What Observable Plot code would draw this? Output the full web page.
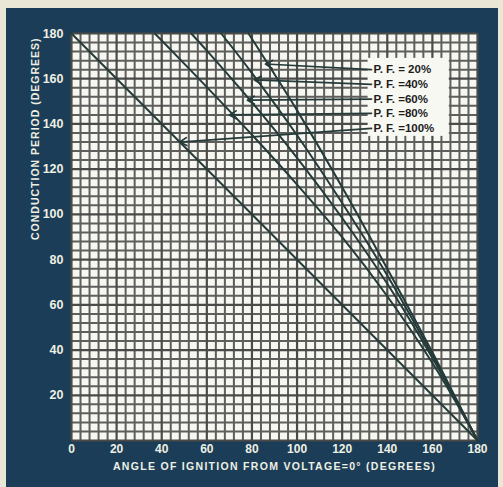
<!DOCTYPE html>
<html><head><meta charset="utf-8">
<script src="https://cdn.jsdelivr.net/npm/d3@7"></script>
<script src="https://cdn.jsdelivr.net/npm/@observablehq/plot@0.6"></script>
<style>
html,body{margin:0;padding:0;background:#ebe7d6;width:503px;height:487px;overflow:hidden}
#chart{position:absolute;left:6px;top:8px}
</style></head><body><div id="chart"></div>
<script>
// Tick labels
const xTicks = [0, 20, 40, 60, 80, 100, 120, 140, 160, 180];
const yTicks = [20, 40, 60, 80, 100, 120, 140, 160, 180];
const gridStep = 4;
const xTitle = "ANGLE OF IGNITION FROM VOLTAGE=0° (DEGREES)";
const yTitle = "CONDUCTION PERIOD (DEGREES)";

// Curves: angle of ignition (alpha) vs conduction period (beta)
const alpha20 = [78.5, 90, 100, 120, 140, 160, 170, 180];
const beta20  = [180, 162, 146, 112, 76, 39, 19.5, 0];
const alpha40 = [66.4, 80, 100, 120, 140, 160, 170, 180];
const beta40  = [180, 162.5, 135, 105, 73, 37.7, 19, 0];
const alpha60 = [53.1, 60, 80, 100, 120, 140, 160, 170, 180];
const beta60  = [180, 172.4, 149.5, 125, 98.4, 69.3, 36.5, 18.6, 0];
const alpha80 = [36.9, 40, 60, 80, 100, 120, 140, 160, 170, 180];
const beta80  = [180, 176.9, 156.3, 135.2, 113.2, 89.9, 63.8, 34.3, 17.7, 0];
const alpha100 = [0, 180];
const beta100  = [180, 0];

// Labels and leader lines
const labels = ["P. F. = 20%", "P. F. =40%", "P. F. =60%", "P. F. =80%", "P. F. =100%"];
const labelAlpha = [133, 133, 133, 133, 133];
const labelBeta = [164, 157.5, 151, 144.7, 138];
const targetAlpha = [86, 81, 78, 70, 48];
const targetBeta = [166.5, 159.5, 150.5, 144, 132];

const seriesList = [
  ["20", alpha20, beta20], ["40", alpha40, beta40], ["60", alpha60, beta60],
  ["80", alpha80, beta80], ["100", alpha100, beta100]
];
const curves = seriesList.flatMap(([pf, a, b]) => a.map((x, i) => ({pf, x, y: b[i]})));
const leaders = labels.map((t, i) => ({t, x1: labelAlpha[i], y1: labelBeta[i], x2: targetAlpha[i], y2: targetBeta[i]}));
const grid = d3.range(0, 181, gridStep);
const gridMinor = grid.filter(v => v % 20 !== 0);
const gridMajor = grid.filter(v => v % 20 === 0);

const boxX1 = d3.min(labelAlpha) - 1.5, boxX2 = d3.max(labelAlpha) + 34.5;
const boxY1 = d3.min(labelBeta) - 3.5, boxY2 = d3.max(labelBeta) + 5;

const plot = Plot.plot({
  width: 492, height: 479,
  marginLeft: 65, marginRight: 21, marginTop: 25, marginBottom: 47,
  x: {domain: [0, 180]},
  y: {domain: [0, 180]},
  style: {background: "#1b3d57", color: "#eef0e3", fontFamily: "Liberation Sans, Arial, sans-serif"},
  marks: [
    Plot.frame({fill: "#f6f7f1", stroke: null}),
    Plot.ruleX(gridMinor, {stroke: "#5e5e5c", strokeWidth: 2}),
    Plot.ruleY(gridMinor, {stroke: "#5e5e5c", strokeWidth: 2}),
    Plot.ruleX(gridMajor, {stroke: "#4a4a48", strokeWidth: 2.2}),
    Plot.ruleY(gridMajor, {stroke: "#4a4a48", strokeWidth: 2.2}),
    Plot.line(curves, {x: "x", y: "y", z: "pf", stroke: "#253b3a", strokeWidth: 2, curve: "catmull-rom"}),
    Plot.rect([0], {x1: boxX1, x2: boxX2, y1: boxY1, y2: boxY2, fill: "#f8f8f3"}),
    Plot.arrow(leaders, {x1: "x1", y1: "y1", x2: "x2", y2: "y2", stroke: "#253b3a", strokeWidth: 1.7, headLength: 7}),
    Plot.text(leaders, {x: "x1", y: "y1", text: "t", textAnchor: "start", dx: 2, fill: "#1c1c1c", fontSize: 11.5, fontWeight: "bold"}),
    Plot.axisX(xTicks, {tickSize: 0, tickPadding: 4, fontSize: 12, fontWeight: "bold", label: null}),
    Plot.axisY(yTicks, {tickSize: 0, tickPadding: 8, fontSize: 12.5, fontWeight: "bold", label: null}),
    Plot.text([xTitle], {text: d => d, frameAnchor: "bottom", dy: 29, fontSize: 10.5, fontWeight: "bold"}),
    Plot.text([yTitle], {text: d => d, frameAnchor: "left", rotate: -90, dx: -36, dy: 3, fontSize: 10.5, fontWeight: "bold"})
  ]
});
plot.querySelectorAll("text").forEach(t => {
  if (t.textContent === xTitle) t.style.letterSpacing = "1.3px";
  if (t.textContent === yTitle) t.style.letterSpacing = "1px";
});
document.getElementById("chart").appendChild(plot);
</script></body></html>
